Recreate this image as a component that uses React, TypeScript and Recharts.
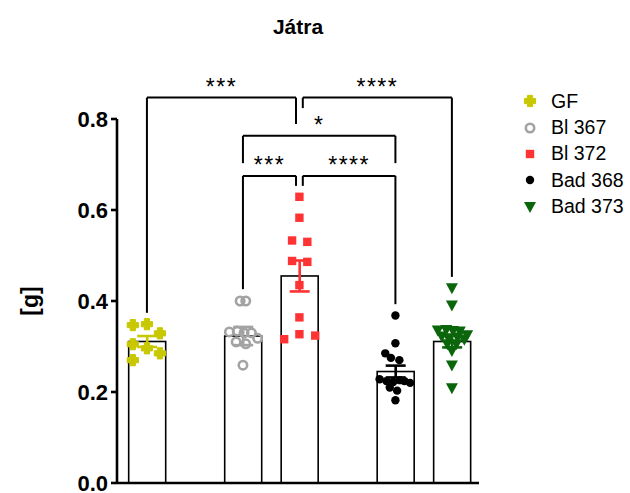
import { Bar, ComposedChart, Legend, ReferenceDot, ReferenceLine, Scatter, XAxis, YAxis } from 'recharts'

const FONT = '"Liberation Sans", Arial, Helvetica, sans-serif'

const GROUPS = ['GF', 'Bl 367', 'Bl 372', 'Bad 368', 'Bad 373']
// group centres on a numeric x axis (Prism leaves wider gaps between pairs)
const GROUP_X = [1, 2.7, 3.7, 5.4, 6.4]
const COLORS = ['#c8c800', '#a3a3a3', '#ff3333', '#000000', '#0b650b']
const MARKERS = ['plus', 'ring', 'square', 'dot', 'triangle']
const MEANS = [0.311, 0.323, 0.455, 0.245, 0.311]
const SEMS = [0.012, 0.02, 0.034, 0.013, 0.013]

// [horizontal jitter in x units, value]
const GF_PTS = [[-0.25, 0.347], [0, 0.349], [0.23, 0.329], [-0.25, 0.305], [0, 0.296], [0.23, 0.285], [-0.25, 0.27]]
const BL367_PTS = [
  [-0.05, 0.4], [0.05, 0.4], [-0.24, 0.332], [-0.1, 0.334], [0.02, 0.33], [0.15, 0.33],
  [0.26, 0.318], [-0.12, 0.31], [0.05, 0.306], [0, 0.259],
]
const BL372_PTS = [
  [0, 0.629], [0, 0.583], [-0.13, 0.533], [0.14, 0.53], [-0.13, 0.488], [0.14, 0.486],
  [0, 0.435], [0, 0.364], [0, 0.327], [-0.27, 0.316], [0.28, 0.324],
]
const BAD368_PTS = [
  [0, 0.368], [0, 0.307], [-0.18, 0.285], [-0.08, 0.275], [0.07, 0.27], [-0.28, 0.228],
  [-0.16, 0.224], [-0.04, 0.222], [0.08, 0.226], [0.26, 0.22], [0.16, 0.224], [-0.1, 0.21],
  [0.03, 0.203], [0, 0.182],
]
const BAD373_PTS = [
  [0, 0.428], [0, 0.39], [-0.25, 0.335], [-0.1, 0.336], [0.02, 0.334], [0.14, 0.333],
  [0.27, 0.325], [-0.18, 0.322], [-0.06, 0.318], [0.1, 0.32], [0.22, 0.315], [-0.08, 0.305],
  [0.08, 0.305], [0, 0.29], [0, 0.258], [0, 0.208],
]
const POINTS = [GF_PTS, BL367_PTS, BL372_PTS, BAD368_PTS, BAD373_PTS]

// significance brackets: ends given as group index + small nudge
const BRACKETS = [
  { a: 0, an: 0, b: 2, bn: -0.06, y: 0.847, dropA: 0.374, dropB: 0.789, label: '***' },
  { a: 2, an: 0.06, b: 4, bn: 0, y: 0.847, dropA: 0.824, dropB: 0.453, label: '****' },
  { a: 1, an: 0, b: 3, bn: 0, y: 0.763, dropA: 0.703, dropB: 0.703, label: '*' },
  { a: 1, an: 0, b: 2, bn: -0.06, y: 0.675, dropA: 0.426, dropB: 0.653, label: '***' },
  { a: 2, an: 0.06, b: 3, bn: 0, y: 0.675, dropA: 0.653, dropB: 0.393, label: '****' },
]

const barData = GROUPS.map((g, i) => ({ name: g, x: GROUP_X[i], mean: MEANS[i], sem: SEMS[i], color: COLORS[i] }))

function Marker({ kind, cx, cy, color }: { kind: string; cx: number; cy: number; color: string }) {
  if (kind === 'plus') {
    const a = 2.6
    const b = 5.6
    return (
      <path
        d={`M${cx - a},${cy - b}H${cx + a}V${cy - a}H${cx + b}V${cy + a}H${cx + a}V${cy + b}H${cx - a}V${cy + a}H${cx - b}V${cy - a}H${cx - a}Z`}
        fill={color}
        stroke={color}
        strokeWidth={1}
        strokeLinejoin="round"
      />
    )
  }
  if (kind === 'ring') return <circle cx={cx} cy={cy} r={4.2} fill="none" stroke={color} strokeWidth={2.6} />
  if (kind === 'square') return <rect x={cx - 4.2} y={cy - 4.2} width={8.4} height={8.4} fill={color} />
  if (kind === 'dot') return <circle cx={cx} cy={cy} r={4.2} fill={color} />
  return <path d={`M${cx - 6},${cy - 5}H${cx + 6}L${cx},${cy + 6}Z`} fill={color} />
}

function BarWithError(props: any) {
  const { x, y, width, height, payload } = props
  const perUnit = height / payload.mean
  const e = payload.sem * perUnit
  const cx = x + width / 2
  const c = payload.color
  return (
    <g>
      <rect x={x} y={y} width={width} height={height} fill="#fff" stroke="#000" strokeWidth={1.6} />
      <line x1={cx} x2={cx} y1={y - e} y2={y + e} stroke={c} strokeWidth={2.6} />
      <line x1={cx - 10} x2={cx + 10} y1={y - e} y2={y - e} stroke={c} strokeWidth={2.6} />
      <line x1={cx - 10} x2={cx + 10} y1={y + e} y2={y + e} stroke={c} strokeWidth={2.6} />
    </g>
  )
}

function LegendBox() {
  return (
    <div style={{ fontFamily: FONT, fontSize: 19.5, color: '#000' }}>
      {GROUPS.map((g, i) => (
        <div key={g} style={{ display: 'flex', alignItems: 'center', height: 26.4 }}>
          <svg width={24} height={20} style={{ marginRight: 9 }}>
            <Marker kind={MARKERS[i]} cx={12} cy={10} color={COLORS[i]} />
          </svg>
          <span>{g}</span>
        </div>
      ))}
    </div>
  )
}

export default function App() {
  return (
    <div style={{ position: 'absolute', left: 0, top: 0, width: 630, height: 493, background: '#fff' }}>
      <div
        style={{
          position: 'absolute', left: 0, top: 15, width: 596, textAlign: 'center',
          fontFamily: FONT, fontWeight: 'bold', fontSize: 21, color: '#000',
        }}
      >
        Játra
      </div>
      <ComposedChart width={630} height={493} data={barData} margin={{ top: 119, right: 151, bottom: 0, left: 0 }}>
        <XAxis
          type="number"
          dataKey="x"
          domain={[0.47, 6.88]}
          allowDataOverflow
          ticks={GROUP_X}
          tick={false}
          tickSize={6}
          tickLine={{ stroke: '#000', strokeWidth: 2 }}
          axisLine={{ stroke: '#000', strokeWidth: 2.6 }}
          height={10}
        />
        <XAxis xAxisId="pts" type="number" dataKey="x" domain={[0.47, 6.88]} allowDataOverflow hide />
        <YAxis
          type="number"
          domain={[0, 0.8]}
          allowDataOverflow
          ticks={[0, 0.2, 0.4, 0.6, 0.8]}
          interval={0}
          tickFormatter={(v: number) => v.toFixed(1)}
          width={117}
          tickSize={6}
          tickMargin={3}
          tickLine={{ stroke: '#000', strokeWidth: 2.6 }}
          axisLine={{ stroke: '#000', strokeWidth: 2.6 }}
          tick={{ fill: '#000', fontSize: 22, fontWeight: 'bold', fontFamily: FONT }}
          label={{
            content: (p: any) => {
              const vb = p.viewBox
              const cy = vb.y + vb.height / 2
              return (
                <text
                  x={38}
                  y={cy}
                  transform={`rotate(-90 38 ${cy})`}
                  textAnchor="middle"
                  fontFamily={FONT}
                  fontWeight="bold"
                  fontSize={23}
                  fill="#000"
                >
                  [g]
                </text>
              )
            },
          }}
        />
        <Bar dataKey="mean" barSize={37} shape={BarWithError} isAnimationActive={false} legendType="none" />
        {POINTS.map((pts, i) => (
          <Scatter
            key={GROUPS[i]}
            name={GROUPS[i]}
            xAxisId="pts"
            dataKey="y"
            data={pts.map(([dx, v]) => ({ x: GROUP_X[i] + dx, y: v }))}
            fill={COLORS[i]}
            shape={(p: any) => <Marker kind={MARKERS[i]} cx={p.cx} cy={p.cy} color={COLORS[i]} />}
            isAnimationActive={false}
          />
        ))}
        {BRACKETS.map((br, i) => {
          const x1 = GROUP_X[br.a] + br.an
          const x2 = GROUP_X[br.b] + br.bn
          const st = { stroke: '#000', strokeWidth: 2 }
          return [
            <ReferenceLine key={`h${i}`} segment={[{ x: x1, y: br.y }, { x: x2, y: br.y }]} ifOverflow="visible" {...st} />,
            <ReferenceLine key={`l${i}`} segment={[{ x: x1, y: br.y }, { x: x1, y: br.dropA }]} ifOverflow="visible" {...st} />,
            <ReferenceLine key={`r${i}`} segment={[{ x: x2, y: br.y }, { x: x2, y: br.dropB }]} ifOverflow="visible" {...st} />,
            <ReferenceDot
              key={`t${i}`}
              x={(x1 + x2) / 2}
              y={br.y + 0.024}
              r={0}
              fill="none"
              stroke="none"
              ifOverflow="visible"
              label={{ value: br.label, position: 'center', fill: '#000', fontSize: 23, fontFamily: FONT, letterSpacing: 1.5 }}
            />,
          ]
        })}
        <Legend
          layout="vertical"
          align="center"
          verticalAlign="middle"
          content={() => <LegendBox />}
          wrapperStyle={{ left: 518, top: 88, width: 112, height: 140 }}
        />
      </ComposedChart>
    </div>
  )
}
